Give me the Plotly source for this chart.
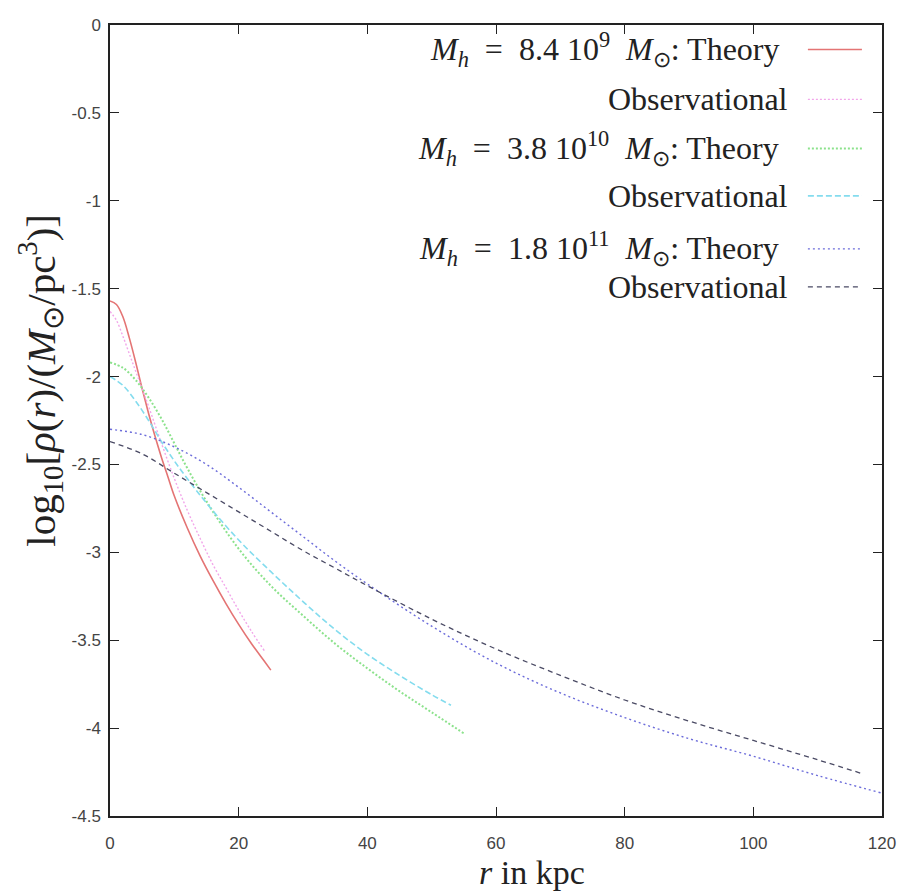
import plotly.graph_objects as go

# ---- data ----
r_th1 = [0, 1, 2, 3, 4, 5, 6, 7, 8, 9, 10, 12, 14, 16, 18, 20, 22, 24, 25]
v_th1 = [-1.57, -1.59, -1.66, -1.78, -1.92, -2.07, -2.21, -2.34, -2.46, -2.57, -2.68,
         -2.86, -3.02, -3.16, -3.29, -3.41, -3.52, -3.62, -3.67]

r_ob1 = [0, 1, 2, 3, 4, 5, 6, 8, 10, 12, 14, 16, 18, 20, 22, 24]
v_ob1 = [-1.63, -1.68, -1.77, -1.87, -1.97, -2.07, -2.17, -2.38, -2.58, -2.76, -2.92,
         -3.07, -3.20, -3.33, -3.45, -3.56]

r_th2 = [0, 2, 4, 6, 8, 10, 12, 15, 20, 25, 30, 35, 40, 45, 50, 55]
v_th2 = [-1.92, -1.95, -2.02, -2.12, -2.24, -2.38, -2.52, -2.71, -2.98, -3.19, -3.36,
         -3.52, -3.66, -3.79, -3.91, -4.03]

r_ob2 = [0, 2, 4, 6, 8, 10, 12, 15, 20, 25, 30, 35, 40, 45, 50, 53]
v_ob2 = [-2.00, -2.05, -2.14, -2.25, -2.37, -2.48, -2.58, -2.72, -2.93, -3.11, -3.28,
         -3.44, -3.58, -3.70, -3.81, -3.87]

r_th3 = [0, 5, 10, 15, 20, 25, 30, 35, 40, 50, 60, 70, 80, 90, 100, 110, 120]
v_th3 = [-2.30, -2.33, -2.40, -2.50, -2.63, -2.77, -2.91, -3.05, -3.18, -3.42, -3.63,
         -3.80, -3.94, -4.06, -4.16, -4.27, -4.37]

r_ob3 = [0, 5, 10, 15, 20, 25, 30, 35, 40, 50, 60, 70, 80, 90, 100, 110, 117]
v_ob3 = [-2.37, -2.44, -2.55, -2.66, -2.77, -2.88, -2.99, -3.09, -3.19, -3.38, -3.55,
         -3.70, -3.84, -3.96, -4.07, -4.18, -4.26]

x_ticks = [0, 20, 40, 60, 80, 100, 120]
y_ticks = [0, -0.5, -1, -1.5, -2, -2.5, -3, -3.5, -4, -4.5]
y_tick_labels = ["0", "-0.5", "-1", "-1.5", "-2", "-2.5", "-3", "-3.5", "-4", "-4.5"]

legend_labels = [
    "<i>M</i><sub><i>h</i></sub>&#8194;=&#8194;8.4 10<sup>9</sup>&#8194;<i>M</i><sub>⊙</sub>: Theory",
    "Observational",
    "<i>M</i><sub><i>h</i></sub>&#8194;=&#8194;3.8 10<sup>10</sup>&#8194;<i>M</i><sub>⊙</sub>: Theory",
    "Observational",
    "<i>M</i><sub><i>h</i></sub>&#8194;=&#8194;1.8 10<sup>11</sup>&#8194;<i>M</i><sub>⊙</sub>: Theory",
    "Observational",
]

# ---- styles ----
colors = ["#e47474", "#f2a6ea", "#8ce28c", "#84dcee", "#6c6cda", "#4a4a64"]
dashes = ["solid", "2px,2px", "2px,2px", "6px,3px", "2px,3px", "5px,4px"]
widths = [1.6, 1.4, 2.0, 1.6, 1.4, 1.3]
series = [(r_th1, v_th1), (r_ob1, v_ob1), (r_th2, v_th2),
          (r_ob2, v_ob2), (r_th3, v_th3), (r_ob3, v_ob3)]

fig = go.Figure()
for (xs, ys), c, d, w in zip(series, colors, dashes, widths):
    fig.add_trace(go.Scatter(x=xs, y=ys, mode="lines", line_shape="spline",
                             line=dict(color=c, dash=d, width=w),
                             showlegend=False))

# page body has an 8px margin; plot area lands at x 110..882, y 16..816
W, H = 904, 888
L, R, T, B = 102, 30, 8, 80

serif = "Liberation Serif, Times New Roman, serif"
row_y = [0.969, 0.906, 0.844, 0.784, 0.717, 0.669]
text_x = [0.869, 0.881, 0.869, 0.881, 0.869, 0.881]
annotations = []
shapes = []
for lab, yy, tx, c, d, w in zip(legend_labels, row_y, text_x, colors, dashes, widths):
    annotations.append(dict(xref="paper", yref="paper", x=tx, y=yy, text=lab,
                            showarrow=False, xanchor="right", yanchor="middle",
                            font=dict(family=serif, size=32, color="#222")))
    shapes.append(dict(type="line", xref="paper", yref="paper", x0=0.904, x1=0.974,
                       y0=yy, y1=yy, line=dict(color=c, dash=d, width=w)))

annotations.append(dict(xref="paper", yref="paper", x=0.546, y=-0.071,
                        text="<i>r</i> in kpc", showarrow=False,
                        xanchor="center", yanchor="middle",
                        font=dict(family=serif, size=34, color="#222")))
annotations.append(dict(xref="paper", yref="paper", x=-0.090, y=0.551,
                        text="log<sub>10</sub>[<i>ρ</i>(<i>r</i>)/(<i>M</i><sub>⊙</sub>/pc<sup>3</sup>)]",
                        showarrow=False, textangle=-90,
                        xanchor="center", yanchor="middle",
                        font=dict(family=serif, size=41, color="#222")))

tickfont = dict(family="Liberation Sans Narrow, Liberation Sans, Arial", size=17, color="#444")
fig.update_layout(
    width=W, height=H,
    margin=dict(l=L, r=R, t=T, b=B),
    paper_bgcolor="white", plot_bgcolor="white",
    annotations=annotations, shapes=shapes,
    xaxis=dict(range=[0, 120], tickvals=x_ticks, ticks="inside", ticklen=9,
               tickcolor="#222", tickwidth=1.2, mirror="ticks", showline=True,
               linecolor="#222", linewidth=1.5, showgrid=False, zeroline=False,
               tickfont=tickfont, ticklabelstandoff=11),
    yaxis=dict(range=[-4.5, 0], tickvals=y_ticks, ticktext=y_tick_labels,
               ticks="inside", ticklen=9, tickcolor="#222", tickwidth=1.2,
               mirror="ticks", showline=True, linecolor="#222", linewidth=1.5,
               showgrid=False, zeroline=False, tickfont=tickfont,
               ticklabelstandoff=4, ticklabeloverflow="allow"),
)

fig.write_html("out.html")
